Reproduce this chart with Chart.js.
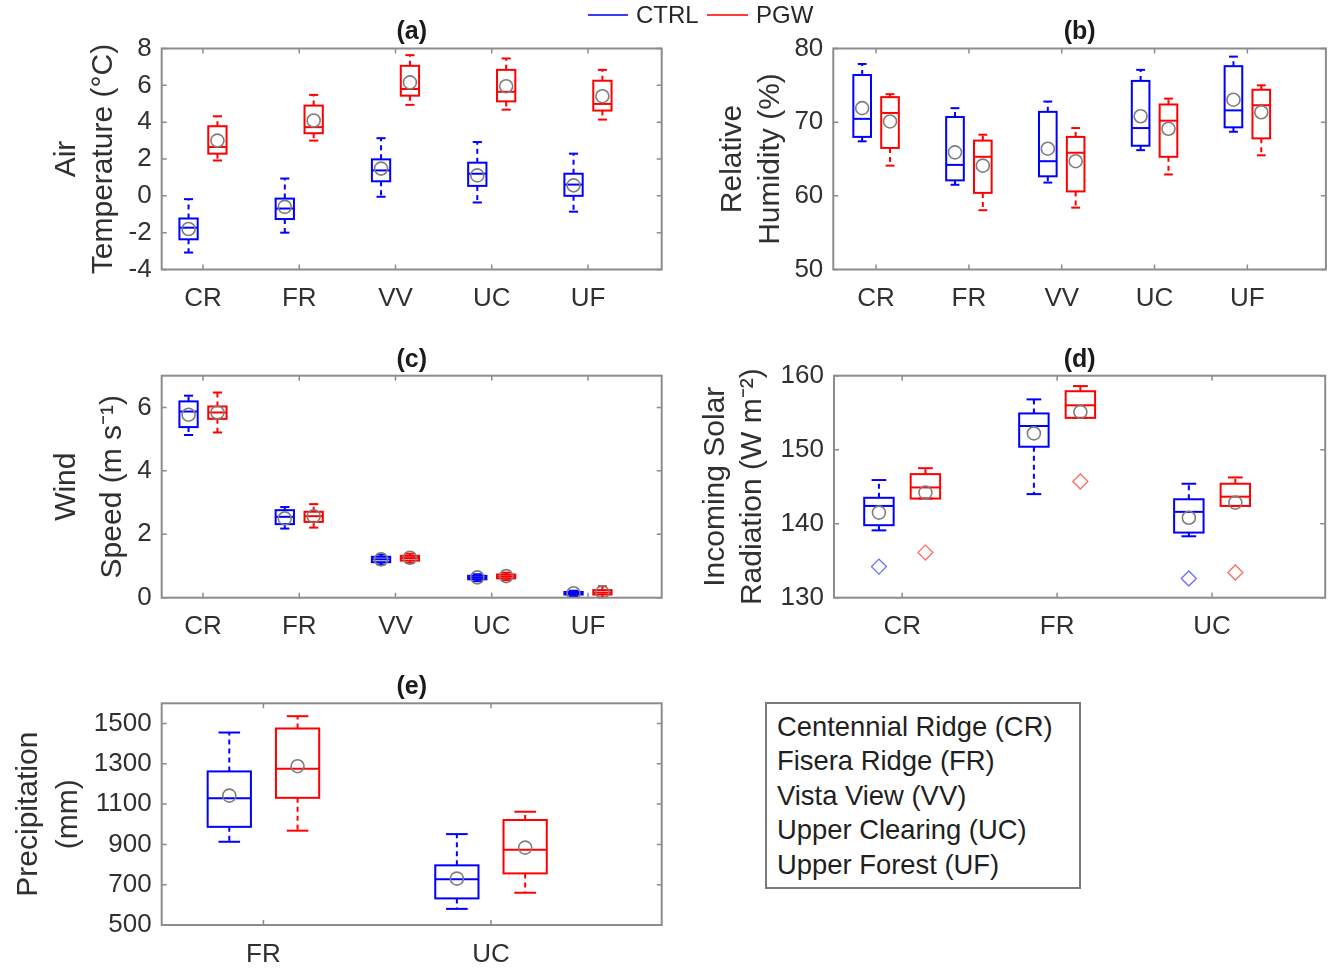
<!DOCTYPE html>
<html>
<head>
<meta charset="utf-8">
<script src="https://cdn.jsdelivr.net/npm/chart.js@4.4.1/dist/chart.umd.min.js"></script>
<style>
  body { margin: 0; background: #fff; width: 1334px; height: 968px; position: relative; overflow: hidden;
         font-family: "Liberation Sans", Arial, sans-serif; color: #262626; }
  canvas { position: absolute; }
  .lg-line { position: absolute; height: 2px; top: 14px; }
  .lg-text { position: absolute; top: 0; font-size: 24px; line-height: 30px; }
  #sites { position: absolute; left: 765px; top: 702px; width: 316px; height: 187px; box-sizing: border-box;
           border: 2px solid #7a7a7a; padding: 6px 0 0 10px; font-size: 27.4px; line-height: 34.4px; color: #1f1f1f; }
</style>
</head>
<body>
<canvas id="pa" width="680" height="330" style="left:0px;top:0px"></canvas>
<canvas id="pb" width="644" height="330" style="left:690px;top:0px"></canvas>
<canvas id="pc" width="680" height="320" style="left:0px;top:330px"></canvas>
<canvas id="pd" width="644" height="320" style="left:690px;top:330px"></canvas>
<canvas id="pe" width="680" height="318" style="left:0px;top:650px"></canvas>

<div class="lg-line" style="left:588px;width:40px;background:#3b3bff"></div>
<div class="lg-text" style="left:636px">CTRL</div>
<div class="lg-line" style="left:707px;width:41px;background:#ff3b3b"></div>
<div class="lg-text" style="left:756px">PGW</div>

<div id="sites">
  <div>Centennial Ridge (CR)</div>
  <div>Fisera Ridge (FR)</div>
  <div>Vista View (VV)</div>
  <div>Upper Clearing (UC)</div>
  <div>Upper Forest (UF)</div>
</div>

<script>
// sites on each panel
const sites5 = ["CR", "FR", "VV", "UC", "UF"];
const sites3 = ["CR", "FR", "UC"];
const sites2 = ["FR", "UC"];

// box stats per site: [lower whisker, Q1, median, Q3, upper whisker]
const tempCtrl = [
  [-3.08, -2.36, -1.73, -1.23, -0.18],
  [-2.0, -1.26, -0.69, -0.15, 0.94],
  [-0.05, 0.79, 1.38, 1.98, 3.13],
  [-0.36, 0.54, 1.2, 1.8, 2.92],
  [-0.86, 0.0, 0.61, 1.2, 2.29]
];
const tempCtrlMean = [-1.8, -0.6, 1.48, 1.11, 0.57];
const tempPgw = [
  [1.92, 2.29, 2.65, 3.78, 4.32],
  [3.0, 3.4, 3.73, 4.9, 5.48],
  [4.94, 5.44, 5.8, 7.06, 7.64],
  [4.68, 5.13, 5.65, 6.84, 7.46],
  [4.14, 4.63, 4.99, 6.25, 6.84]
];
const tempPgwMean = [3.0, 4.09, 6.16, 5.95, 5.41];
const tempTicks = [-4, -2, 0, 2, 4, 6, 8];

const rhCtrl = [
  [67.4, 68.0, 70.45, 76.4, 77.9],
  [61.5, 62.1, 64.2, 70.7, 71.9],
  [61.8, 62.65, 64.7, 71.4, 72.8],
  [66.2, 66.8, 69.2, 75.6, 77.1],
  [68.7, 69.3, 71.6, 77.6, 78.9]
];
const rhCtrlMean = [71.9, 65.9, 66.4, 70.8, 73.05];
const rhPgw = [
  [64.1, 66.5, 71.25, 73.4, 73.8],
  [58.05, 60.4, 65.3, 67.5, 68.3],
  [58.4, 60.6, 65.85, 68.0, 69.2],
  [62.9, 65.3, 70.2, 72.4, 73.2],
  [65.5, 67.8, 72.3, 74.4, 75.0]
];
const rhPgwMean = [70.1, 64.1, 64.7, 69.1, 71.35];
const rhTicks = [50, 60, 70, 80];

const windCtrl = [
  [5.13, 5.38, 5.87, 6.19, 6.37],
  [2.18, 2.32, 2.55, 2.76, 2.86],
  [1.05, 1.12, 1.21, 1.29, 1.36],
  [0.52, 0.58, 0.63, 0.69, 0.74],
  [0.05, 0.1, 0.14, 0.18, 0.22]
];
const windCtrlMean = [5.77, 2.5, 1.21, 0.64, 0.14];
const windPgw = [
  [5.21, 5.64, 5.84, 6.03, 6.47],
  [2.21, 2.39, 2.57, 2.71, 2.95],
  [1.1, 1.17, 1.25, 1.32, 1.39],
  [0.55, 0.61, 0.67, 0.73, 0.79],
  [0.01, 0.1, 0.16, 0.24, 0.36]
];
const windPgwMean = [5.84, 2.57, 1.26, 0.68, 0.17];
const windTicks = [0, 2, 4, 6];

const solarCtrl = [
  [139.1, 139.8, 142.4, 143.5, 145.9],
  [144.0, 150.4, 153.2, 154.9, 156.8],
  [138.3, 138.8, 141.6, 143.3, 145.4]
];
const solarCtrlMean = [141.5, 152.2, 140.8];
const solarCtrlOut = [134.2, null, 132.6];
const solarPgw = [
  [143.4, 143.4, 144.9, 146.7, 147.5],
  [154.3, 154.3, 156.0, 157.9, 158.6],
  [142.4, 142.4, 143.65, 145.4, 146.25]
];
const solarPgwMean = [144.2, 155.1, 142.85];
const solarPgwOut = [136.1, 145.7, 133.4];
const solarTicks = [130, 140, 150, 160];

const precipCtrl = [
  [913, 987, 1129, 1262, 1455],
  [580, 632, 727, 796, 951]
];
const precipCtrlMean = [1142, 730];
const precipPgw = [
  [968, 1131, 1275, 1475, 1536],
  [660, 756, 873, 1021, 1062]
];
const precipPgwMean = [1288, 884];
const precipTicks = [500, 700, 900, 1100, 1300, 1500];

// --- look ---
const BLUE = "#0000ff";
const RED = "#ff0000";
const MEAN = "#7d7d7d";
const FRAME = "#8c8c8c";
const TEXT = "#303030";
const OFF = 0.15;     // CTRL left / PGW right of the site tick
const HALF = 0.095;   // half box width in x units

Chart.defaults.font.family = '"Liberation Sans", Arial, sans-serif';
Chart.defaults.color = TEXT;

function makePanel(id, cfg) {
  const pts = (vals, off) => vals
    .map((v, i) => (v == null ? null : { x: i + 1 + off, y: v }))
    .filter(p => p);

  const datasets = [
    { data: pts(cfg.ctrlMean, -OFF), pointRadius: 6.5, borderColor: MEAN, borderWidth: 1.6, backgroundColor: "rgba(0,0,0,0)" },
    { data: pts(cfg.pgwMean, OFF), pointRadius: 6.5, borderColor: MEAN, borderWidth: 1.6, backgroundColor: "rgba(0,0,0,0)" }
  ];
  if (cfg.ctrlOut) datasets.push({ data: pts(cfg.ctrlOut, -OFF), pointStyle: "rectRot", pointRadius: 7.5, borderColor: "#6b6bff", borderWidth: 1.3, backgroundColor: "rgba(0,0,0,0)" });
  if (cfg.pgwOut) datasets.push({ data: pts(cfg.pgwOut, OFF), pointStyle: "rectRot", pointRadius: 7.5, borderColor: "#ff6b6b", borderWidth: 1.3, backgroundColor: "rgba(0,0,0,0)" });

  const groups = [
    { stats: cfg.ctrl, color: BLUE, off: -OFF },
    { stats: cfg.pgw, color: RED, off: OFF }
  ];

  const boxes = {
    id: "boxes_" + id,
    beforeDatasetsDraw(chart) {
      const { ctx, scales: { x, y } } = chart;
      const seg = (x1, y1, x2, y2) => { ctx.beginPath(); ctx.moveTo(x1, y1); ctx.lineTo(x2, y2); ctx.stroke(); };
      ctx.save();
      ctx.lineWidth = 2;
      groups.forEach(g => {
        g.stats.forEach((s, i) => {
          const c = i + 1 + g.off;
          const l = x.getPixelForValue(c - HALF);
          const r = x.getPixelForValue(c + HALF);
          const m = x.getPixelForValue(c);
          const cl = x.getPixelForValue(c - HALF / 2);
          const cr = x.getPixelForValue(c + HALF / 2);
          const [lo, q1, med, q3, hi] = s.map(v => y.getPixelForValue(v));
          ctx.strokeStyle = g.color;
          ctx.setLineDash([5, 4]);
          if (hi < q3) seg(m, q3, m, hi);
          if (lo > q1) seg(m, q1, m, lo);
          ctx.setLineDash([]);
          seg(cl, hi, cr, hi);
          seg(cl, lo, cr, lo);
          ctx.strokeRect(l, q3, r - l, q1 - q3);
          seg(l, med, r, med);
        });
      });
      ctx.restore();
    },
    afterDraw(chart) {
      const { ctx, chartArea: a, scales: { x, y } } = chart;
      ctx.save();
      ctx.strokeStyle = FRAME;
      ctx.lineWidth = 2;
      ctx.strokeRect(a.left, a.top, a.right - a.left, a.bottom - a.top);
      ctx.lineWidth = 1.5;
      ctx.beginPath();
      y.ticks.forEach(t => {
        const py = y.getPixelForValue(t.value);
        ctx.moveTo(a.left, py); ctx.lineTo(a.left + 5, py);
        ctx.moveTo(a.right, py); ctx.lineTo(a.right - 5, py);
      });
      x.ticks.forEach(t => {
        const px = x.getPixelForValue(t.value);
        ctx.moveTo(px, a.bottom); ctx.lineTo(px, a.bottom - 5);
        ctx.moveTo(px, a.top); ctx.lineTo(px, a.top + 5);
      });
      ctx.stroke();
      ctx.fillStyle = "#1a1a1a";
      ctx.font = 'bold 25px "Liberation Sans", Arial, sans-serif';
      ctx.textAlign = "center";
      ctx.textBaseline = "middle";
      ctx.fillText(cfg.letter, (a.left + a.right) / 2, a.top - 16);
      ctx.restore();
    }
  };

  return new Chart(document.getElementById(id), {
    type: "scatter",
    data: { datasets },
    options: {
      responsive: false,
      animation: false,
      layout: { padding: { top: cfg.top, left: 0, right: cfg.right, bottom: 0 } },
      plugins: { legend: { display: false }, tooltip: { enabled: false } },
      scales: {
        x: {
          type: "linear",
          min: cfg.xMin,
          max: cfg.xMax,
          afterBuildTicks: ax => { ax.ticks = cfg.sites.map((s, i) => ({ value: i + 1 })); },
          afterFit: ax => { ax.height = cfg.xh; },
          ticks: {
            callback: v => cfg.sites[Math.round(v) - 1],
            font: { size: 26 }, color: TEXT, padding: 14, maxRotation: 0, autoSkip: false
          },
          grid: { display: false, drawTicks: false },
          border: { display: false }
        },
        y: {
          min: cfg.yTicks[0],
          max: cfg.yMax,
          afterBuildTicks: ax => { ax.ticks = cfg.yTicks.map(v => ({ value: v })); },
          afterFit: ax => { ax.width = cfg.yw; },
          ticks: { callback: v => String(v), font: { size: 26 }, color: TEXT, padding: 10, autoSkip: false },
          grid: { display: false, drawTicks: false },
          border: { display: false },
          title: {
            display: true,
            text: cfg.title,
            color: TEXT,
            font: { size: 30, lineHeight: cfg.lh },
            padding: { top: cfg.tpad, bottom: 0 }
          }
        }
      }
    },
    plugins: [boxes]
  });
}

makePanel("pa", {
  sites: sites5, ctrl: tempCtrl, ctrlMean: tempCtrlMean, pgw: tempPgw, pgwMean: tempPgwMean,
  yTicks: tempTicks, yMax: 8, xMin: 0.571, xMax: 5.766, letter: "(a)",
  title: ["Air", "Temperature (°C)"], lh: 1.22, tpad: 48.4,
  top: 48.5, right: 18.3, yw: 161.7, xh: 60.5
});

makePanel("pb", {
  sites: sites5, ctrl: rhCtrl, ctrlMean: rhCtrlMean, pgw: rhPgw, pgwMean: rhPgwMean,
  yTicks: rhTicks, yMax: 80, xMin: 0.539, xMax: 5.846, letter: "(b)",
  title: ["Relative", "Humidity (%)"], lh: 1.27, tpad: 24,
  top: 48.5, right: 1, yw: 143.3, xh: 60.5
});

makePanel("pc", {
  sites: sites5, ctrl: windCtrl, ctrlMean: windCtrlMean, pgw: windPgw, pgwMean: windPgwMean,
  yTicks: windTicks, yMax: 7, xMin: 0.571, xMax: 5.766, letter: "(c)",
  title: ["Wind", "Speed (m s⁻¹)"], lh: 1.53, tpad: 44,
  top: 45.7, right: 18.3, yw: 161.7, xh: 52.3
});

makePanel("pd", {
  sites: sites3, ctrl: solarCtrl, ctrlMean: solarCtrlMean, pgw: solarPgw, pgwMean: solarPgwMean,
  ctrlOut: solarCtrlOut, pgwOut: solarPgwOut,
  yTicks: solarTicks, yMax: 160, xMin: 0.56, xMax: 3.73, letter: "(d)",
  title: ["Incoming Solar", "Radiation (W m⁻²)"], lh: 1.22, tpad: 7.75,
  top: 45.7, right: 1, yw: 144, xh: 52.3
});

makePanel("pe", {
  sites: sites2, ctrl: precipCtrl, ctrlMean: precipCtrlMean, pgw: precipPgw, pgwMean: precipPgwMean,
  yTicks: precipTicks, yMax: 1600, xMin: 0.553, xMax: 2.75, letter: "(e)",
  title: ["Precipitation", "(mm)"], lh: 1.33, tpad: 9,
  top: 53.3, right: 18.3, yw: 161.7, xh: 43
});
</script>
</body>
</html>
